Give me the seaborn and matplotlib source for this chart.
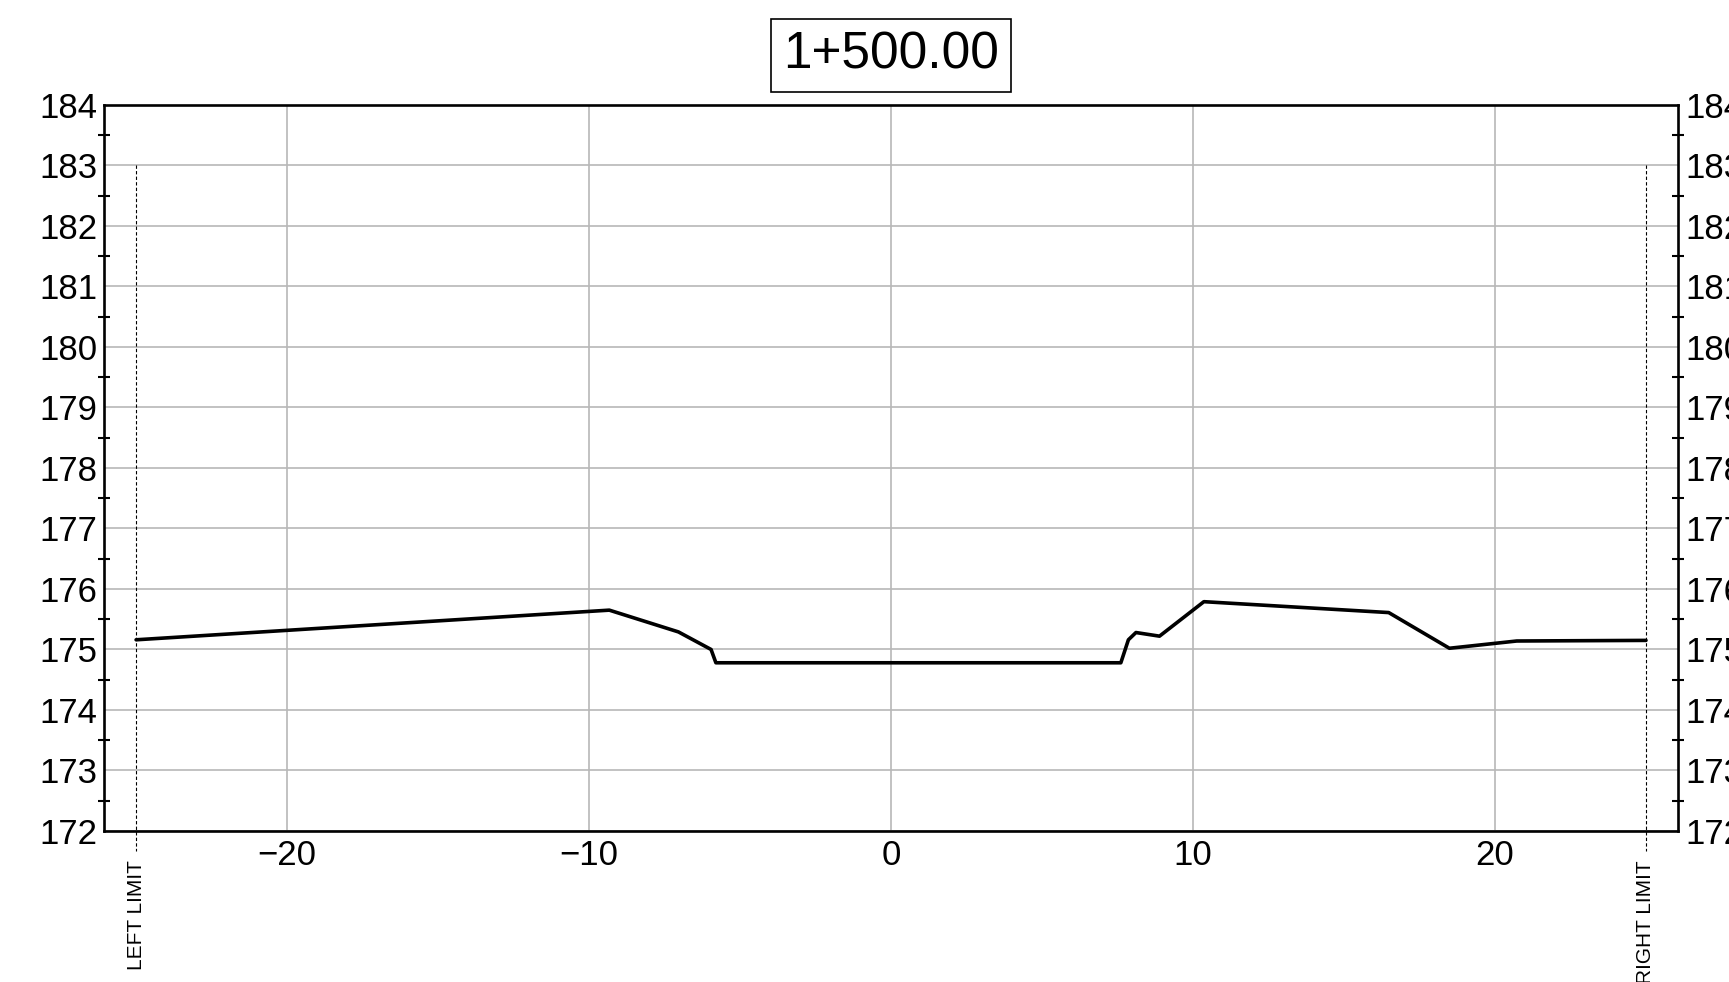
import seaborn as sns
import matplotlib.pyplot as plt
import pandas as pd
from matplotlib.ticker import MultipleLocator

# Cross-section profile (offset in m, elevation in m)
offset = [-25.0, -9.33, -7.04, -5.96, -5.80, 7.61, 7.86, 8.11, 8.89, 10.36, 16.48, 18.49, 20.72, 25.0]
elevation = [175.16, 175.65, 175.29, 175.00, 174.78, 174.78, 175.16, 175.28, 175.22, 175.79, 175.61, 175.02, 175.14, 175.15]

station = '1+500.00'
limits = [-25.0, 25.0]
limit_labels = ['LEFT LIMIT', 'RIGHT LIMIT']
x_ticks = [-20, -10, 0, 10, 20]
y_min, y_max = 172, 184

profile_df = pd.DataFrame({'Offset': offset, 'Elevation': elevation})

sns.set_style('white')
plt.rcParams['font.family'] = ['Liberation Sans', 'DejaVu Sans']
plt.rcParams['text.color'] = 'black'

fig = plt.figure(figsize=(17.29, 9.82), dpi=100)
ax = fig.add_axes([0.0602, 0.1538, 0.9103, 0.7393])

ax = sns.lineplot(x='Offset', y='Elevation', data=profile_df, sort=False,
                  color='black', linewidth=2.6, ax=ax, zorder=3)

ax.set_xlim(-26.06, 26.06)
ax.set_ylim(y_min, y_max)
ax.set_xticks(x_ticks)
ax.set_yticks(range(y_min, y_max + 1))
ax.yaxis.set_minor_locator(MultipleLocator(0.5))
ax.grid(True, which='major', color='#b8b8b8', linewidth=1.2)
ax.set(xlabel='', ylabel='')

for s in ax.spines.values():
    s.set_color('black')
    s.set_linewidth(1.9)

ax.tick_params(axis='y', which='major', length=0, pad=5, labelsize=25,
               labelcolor='black', left=True, right=True,
               labelleft=True, labelright=True)
ax.tick_params(axis='y', which='minor', length=8, width=1.5, direction='inout',
               left=True, right=True, color='black')
ax.tick_params(axis='x', which='major', length=0, pad=6, labelsize=25,
               labelcolor='black')

# section limits
for lx, lab in zip(limits, limit_labels):
    ax.plot([lx, lx], [183, 171.67], color='black', linewidth=0.8,
            linestyle=(0, (3, 2)), clip_on=False, zorder=2)
    ax.text(lx, 171.52, lab, rotation=90, ha='center', va='top',
            fontsize=15, color='black', clip_on=False)

fig.text(0.5153, 0.9435, station, ha='center', va='center', fontsize=37,
         color='black',
         bbox=dict(boxstyle='square,pad=0.24', facecolor='white',
                   edgecolor='black', linewidth=1.2))

plt.savefig('out.png', dpi=100)
